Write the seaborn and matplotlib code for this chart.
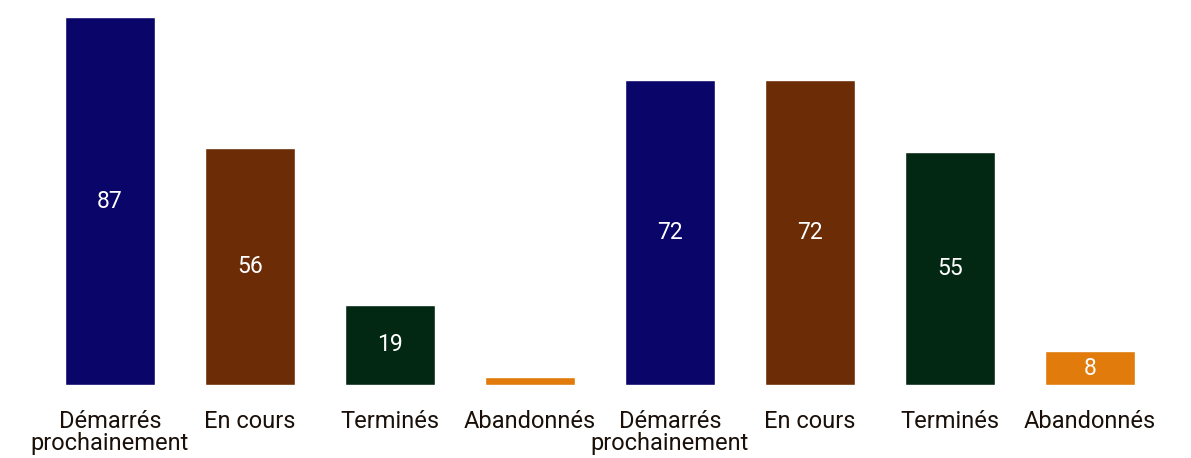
import pandas as pd
import matplotlib.pyplot as plt
import seaborn as sns

# donnees
statuts = ['Démarrés\nprochainement', 'En cours', 'Terminés', 'Abandonnés']
groupe1 = [87, 56, 19, 2]
groupe2 = [72, 72, 55, 8]
couleurs = ['#0a0569', '#6b2c06', '#022814', '#e07b0c']

labels = statuts + statuts
valeurs = groupe1 + groupe2
df = pd.DataFrame({'pos': [str(i) for i in range(len(valeurs))],
                   'valeur': valeurs,
                   'statut': [s for s in statuts] * 2})

sns.set_style('white')
plt.rcParams['font.family'] = ['Roboto', 'DejaVu Sans']

fig = plt.figure(figsize=(11.91, 4.58), dpi=100)
ax = fig.add_axes([40 / 1191, 73 / 458, 1120 / 1191, 368 / 458])

sns.barplot(data=df, x='pos', y='valeur', hue='statut', palette=couleurs,
            width=0.643, dodge=False, legend=False, ax=ax, saturation=1)

ax.set_ylim(0, 87)
ax.set_xlim(-0.5, 7.5)
ax.set_xticks(range(len(labels)))
ax.set_xticklabels(labels, fontsize=17, color='#1a1009', linespacing=0.95)
ax.tick_params(axis='x', length=0, pad=18)
ax.set_yticks([])
ax.set_xlabel('')
ax.set_ylabel('')
for s in ax.spines.values():
    s.set_visible(False)

# etiquettes des valeurs
for i, v in enumerate(valeurs):
    if v >= 5:
        ax.text(i, v / 2, str(v), ha='center', va='center', color='white', fontsize=16.5)
    else:
        ax.text(i, v + 4.5, str(v), ha='center', va='center', color='white', fontsize=16.5)

fig.savefig('out.png', dpi=100)
